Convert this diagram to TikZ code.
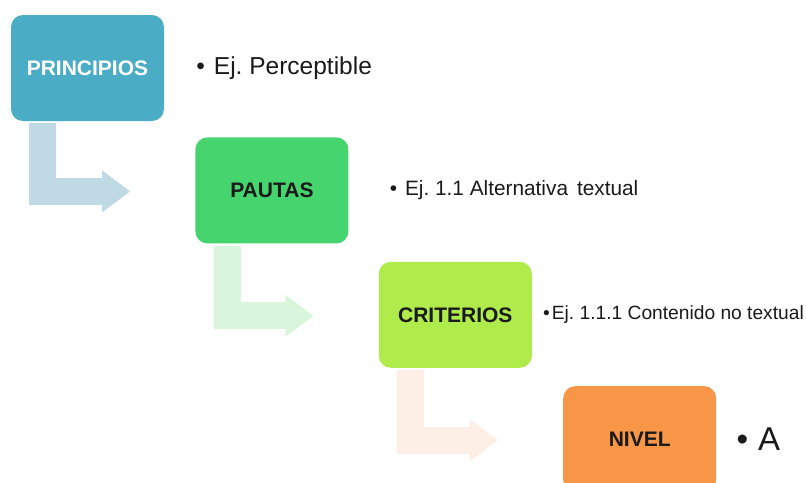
\documentclass[tikz,border=0pt]{standalone}
\usepackage{fontspec}
\setmainfont{Liberation Sans}
\frenchspacing
\usetikzlibrary{arrows.meta, positioning}

\definecolor{prinblue}{HTML}{4BACC6}
\definecolor{pautgreen}{HTML}{46D46E}
\definecolor{critgreen}{HTML}{AEEB4B}
\definecolor{nivorange}{HTML}{F79646}
\definecolor{arrblue}{HTML}{C0DAE5}
\definecolor{arrgreen}{HTML}{D9F5DC}
\definecolor{arrpeach}{HTML}{FDEEE6}
\definecolor{inkgray}{HTML}{1A1A1A}

\begin{document}
\begin{tikzpicture}[
    box/.style={rectangle, rounded corners=12pt, minimum width=153pt, minimum height=106pt,
        text=inkgray, font=\fontsize{21pt}{25pt}\selectfont\bfseries},
    ej/.style={inner sep=0pt, text=inkgray},
    bent/.style={line width=27pt, line join=miter, -{Triangle[length=28pt,width=40pt]}}
]
    \useasboundingbox (0,0) rectangle (806pt,-482pt);
    \clip (0,0) rectangle (806pt,-482pt);

    \node[box, fill=prinblue, text=white] (principios) at (87.5pt,-68pt) {PRINCIPIOS};
    \node[box, fill=pautgreen, below right=16pt and 31pt of principios] (pautas) {PAUTAS};
    \node[box, fill=critgreen, below right=18pt and 30pt of pautas] (criterios) {CRITERIOS};
    \node[box, fill=nivorange, below right=18pt and 31pt of criterios] (nivel) {NIVEL};

    % ejemplos
    \node[ej, right=32pt of principios, font=\fontsize{24.5pt}{28pt}\selectfont] (ejprin) {\textbullet\hspace{9pt}Ej. Perceptible};
    \node[ej, right=41pt of pautas, font=\fontsize{20.8pt}{24pt}\selectfont] (ejpaut) {\textbullet\hspace{8pt}Ej. 1.1 Alternativa\hspace{9pt}textual};
    \node[ej, right=11pt of criterios, font=\fontsize{19.2pt}{23pt}\selectfont] (ejcrit) {\textbullet\hspace{2pt}Ej. 1.1.1 Contenido no textual};
    \node[ej, right=20pt of nivel, font=\fontsize{33pt}{38pt}\selectfont] (ejniv) {\textbullet\hspace{10pt}A};

    \draw[bent, draw=arrblue] ([xshift=32pt,yshift=-2pt]principios.south west) |- ([xshift=-65pt,yshift=-1pt]pautas.west);
    \draw[bent, draw=arrgreen] ([xshift=32pt,yshift=-2pt]pautas.south west) |- ([xshift=-65pt,yshift=-1pt]criterios.west);
    \draw[bent, draw=arrpeach] ([xshift=32pt,yshift=-2pt]criterios.south west) |- ([xshift=-65pt,yshift=-1pt]nivel.west);
\end{tikzpicture}
\end{document}
